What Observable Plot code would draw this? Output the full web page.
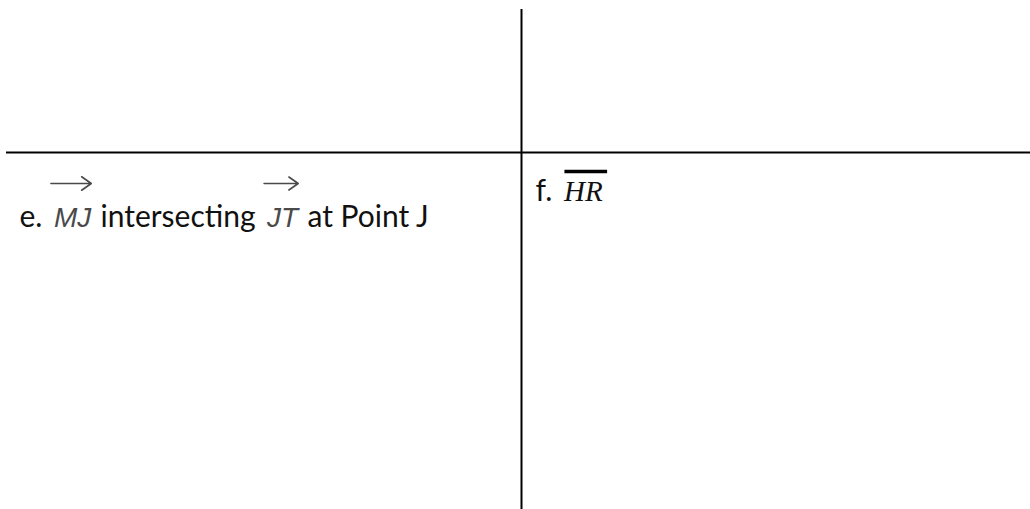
<!DOCTYPE html>
<html>
<head>
<meta charset="utf-8">
<script src="https://cdn.jsdelivr.net/npm/d3@7"></script>
<script src="https://cdn.jsdelivr.net/npm/@observablehq/plot@0.6"></script>
<style>
  html, body { margin: 0; padding: 0; background: #fff; }
  svg { display: block; }
</style>
</head>
<body>
<div id="chart"></div>
<script>
// ---- Table grid (in table units) ----
const columnEdges = [6, 521, 1030];
const rowEdges = [9, 152, 509];

// ---- Cell contents: each cell is a list of text runs ----
// kind: "label" = plain text, "ray" = italic letters with an arrow above,
//       "segment" = italic serif letters with a bar above
const cellE = [
  { text: "e.", kind: "label" },
  { text: "MJ", kind: "ray" },
  { text: "intersecting", kind: "label" },
  { text: "JT", kind: "ray" },
  { text: "at Point J", kind: "label" }
];
const cellF = [
  { text: "f.", kind: "label" },
  { text: "HR", kind: "segment" }
];
const cells = [
  { runs: cellE, column: 0, row: 1, baseline: 74, indent: 13 },
  { runs: cellF, column: 1, row: 1, baseline: 48, indent: 14 }
];

// ---- Styles per run kind ----
const styles = {
  label:   { family: "Lato", size: 30, style: "normal", fill: "#111" },
  ray:     { family: "Liberation Sans", size: 28, style: "italic", fill: "#4a4a4a" },
  segment: { family: "Liberation Serif", size: 29, style: "italic", fill: "#111" }
};

// measure text with the same SVG renderer used for the chart
const ns = "http://www.w3.org/2000/svg";
const probe = document.createElementNS(ns, "svg");
probe.setAttribute("width", 10); probe.setAttribute("height", 10);
probe.style.position = "absolute"; probe.style.left = "-9999px";
document.body.appendChild(probe);
function measure(text, s) {
  const t = document.createElementNS(ns, "text");
  t.setAttribute("font-family", s.family);
  t.setAttribute("font-size", s.size);
  t.setAttribute("font-style", s.style);
  t.textContent = text;
  probe.appendChild(t);
  const w = t.getComputedTextLength();
  probe.removeChild(t);
  return w;
}
const space = measure("a a", styles.label) - measure("aa", styles.label);

// Lay out runs left to right inside each cell
const runs = [];
for (const c of cells) {
  let x = columnEdges[c.column] + c.indent;
  const y = rowEdges[c.row] + c.baseline;
  c.runs.forEach((r, i) => {
    if (i > 0) x += r.kind === "label" ? space * 1.2 : space * 1.5;
    const s = styles[r.kind];
    const w = measure(r.text, s);
    runs.push({ ...r, x, y, w });
    x += w;
  });
}
document.body.removeChild(probe);
const byKind = k => runs.filter(r => r.kind === k);

const textMark = k => Plot.text(byKind(k), {
  x: "x", y: "y", text: "text",
  textAnchor: "start", lineAnchor: "bottom",
  fontFamily: styles[k].family, fontSize: styles[k].size,
  fontStyle: styles[k].style, fill: styles[k].fill
});

const chart = Plot.plot({
  width: 1030,
  height: 509,
  margin: 0,
  x: { domain: [0, 1030], range: [0, 1030], axis: null },
  y: { domain: [0, 509], range: [0, 509], axis: null },
  marks: [
    // vertical divider between the two columns
    Plot.ruleX([columnEdges[1]], { y1: rowEdges[0], y2: rowEdges[2], stroke: "#000", strokeWidth: 2 }),
    // horizontal divider between the two rows
    Plot.ruleY([rowEdges[1]], { x1: columnEdges[0], x2: columnEdges[2], stroke: "#000", strokeWidth: 2 }),
    textMark("label"),
    textMark("ray"),
    textMark("segment"),
    // arrows over rays
    Plot.arrow(byKind("ray"), {
      x1: d => d.x - 3, x2: d => d.x + d.w,
      y1: d => d.y - 43, y2: d => d.y - 43,
      stroke: "#4a4a4a", strokeWidth: 1.6, headLength: 11, headAngle: 70
    }),
    // bar over segment
    Plot.ruleY(byKind("segment"), {
      y: d => d.y - 29, x1: d => d.x + 1, x2: d => d.x + d.w + 5,
      stroke: "#000", strokeWidth: 3.5
    })
  ]
});
document.getElementById("chart").appendChild(chart);
</script>
</body>
</html>
